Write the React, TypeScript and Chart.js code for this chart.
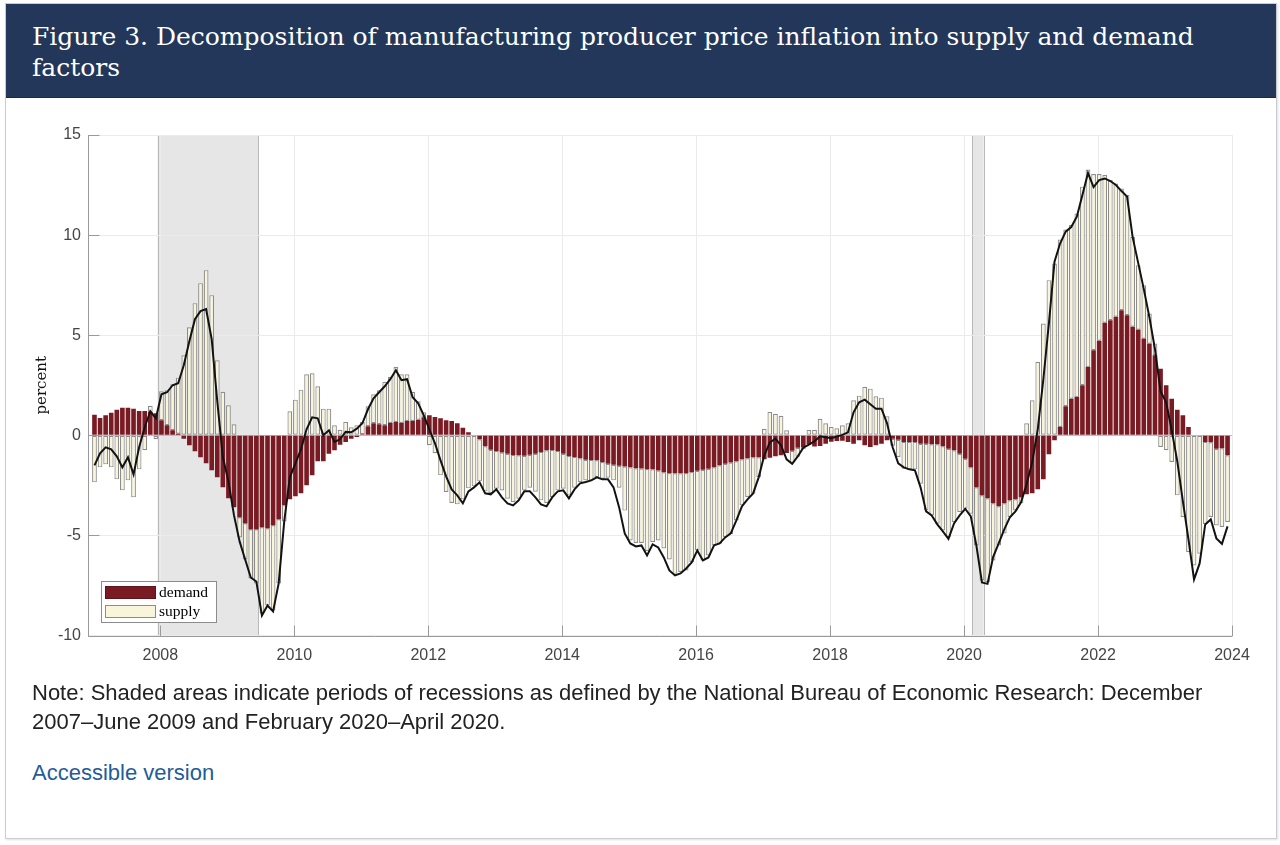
import React, { useEffect, useRef } from "react";
import { Chart, registerables } from "chart.js";

Chart.register(...registerables);

// ---------- data (monthly, Jan 2007 – Dec 2023), percent ----------
const START_YEAR = 2007;

// demand contribution
const demand: number[] = [
  1.03, 0.87, 1.0, 1.13, 1.28, 1.38, 1.38, 1.33, 1.22, 1.22, 1.17, 1.1, // 2007
  0.75, 0.5, 0.25, 0.08, -0.17, -0.5, -0.8, -1.1, -1.4, -1.75, -2.1, -2.6, // 2008
  -3.15, -3.6, -4.1, -4.4, -4.7, -4.7, -4.6, -4.65, -4.5, -4.2, -3.5, -3.2, // 2009
  -3.05, -2.9, -2.5, -2.0, -1.3, -1.3, -0.92, -0.75, -0.47, -0.33, -0.17, -0.08, // 2010
  0.05, 0.45, 0.6, 0.55, 0.5, 0.62, 0.67, 0.62, 0.72, 0.72, 0.78, 0.9, // 2011
  1.0, 0.92, 0.85, 0.75, 0.72, 0.6, 0.38, 0.15, 0.03, -0.2, -0.55, -0.72, // 2012
  -0.78, -0.86, -0.92, -0.98, -1.0, -1.02, -0.97, -0.92, -0.83, -0.75, -0.73, -0.78, // 2013
  -0.92, -1.03, -1.08, -1.15, -1.22, -1.23, -1.25, -1.33, -1.42, -1.47, -1.52, -1.56, // 2014
  -1.6, -1.65, -1.66, -1.68, -1.7, -1.76, -1.85, -1.88, -1.9, -1.9, -1.88, -1.84, // 2015
  -1.77, -1.72, -1.67, -1.6, -1.5, -1.42, -1.36, -1.3, -1.2, -1.15, -1.1, -1.1, // 2016
  -1.2, -1.12, -1.05, -1.0, -0.88, -0.77, -0.62, -0.59, -0.46, -0.56, -0.54, -0.42, // 2017
  -0.32, -0.28, -0.27, -0.33, -0.42, -0.25, -0.5, -0.58, -0.5, -0.42, -0.25, -0.17, // 2018
  -0.22, -0.33, -0.33, -0.33, -0.42, -0.42, -0.45, -0.45, -0.55, -0.67, -0.75, -0.92, // 2019
  -1.17, -1.6, -2.6, -3.0, -3.15, -3.4, -3.55, -3.4, -3.25, -3.2, -3.1, -2.95, // 2020
  -2.9, -2.7, -2.2, -0.95, -0.25, 0.42, 1.45, 1.83, 1.92, 2.5, 3.42, 4.25, // 2021
  4.72, 5.62, 5.75, 5.92, 6.25, 6.0, 5.42, 5.28, 4.83, 4.58, 4.0, 3.33, // 2022
  2.5, 1.83, 1.28, 1.0, 0.42, 0.0, 0.0, -0.33, -0.35, -0.67, -0.65, -1.0, // 2023
];

// supply contribution
const supply: number[] = [
  -2.35, -1.6, -1.45, -1.6, -2.2, -2.75, -2.25, -3.1, -1.7, -0.75, 0.3, -0.2, // 2007
  1.45, 1.75, 2.3, 2.8, 4.0, 5.4, 6.6, 7.6, 8.25, 7.0, 3.75, 2.17, // 2008
  1.5, 0.55, -1.0, -1.8, -2.45, -2.7, -4.3, -3.85, -4.25, -3.2, -0.8, 1.2, // 2009
  1.78, 2.28, 3.05, 3.1, 2.45, 1.33, 1.33, 0.5, 0.28, 0.67, 0.4, 0.5, // 2010
  0.62, 1.0, 1.45, 1.7, 2.17, 2.3, 2.75, 2.43, 2.33, 1.45, 0.92, 0.25, // 2011
  -0.5, -0.9, -2.0, -2.83, -3.38, -3.45, -3.2, -2.65, -2.55, -2.1, -2.25, -2.16, // 2012
  -1.89, -1.9, -2.25, -2.35, -2.17, -1.73, -1.65, -1.9, -2.42, -2.63, -2.35, -1.97, // 2013
  -1.75, -1.97, -1.54, -1.18, -1.03, -1.02, -0.83, -0.84, -0.7, -0.78, -1.1, -2.2, // 2014
  -3.65, -3.73, -3.72, -4.1, -3.63, -3.49, -3.8, -4.32, -5.02, -4.93, -4.87, -4.49, // 2015
  -3.98, -4.53, -4.33, -3.9, -3.92, -3.66, -3.57, -2.95, -2.3, -1.93, -1.82, -0.98, // 2016
  0.33, 1.17, 1.08, 0.98, 0.25, -0.6, -0.45, -0.1, 0.27, 0.28, 0.83, 0.6, // 2017
  0.42, 0.35, 0.5, 0.6, 1.75, 1.98, 2.42, 2.33, 1.95, 1.88, 0.95, -0.35, // 2018
  -0.86, -1.34, -1.39, -1.37, -2.0, -3.33, -3.55, -3.97, -4.2, -4.41, -3.58, -2.91, // 2019
  -2.5, -2.32, -2.9, -4.25, -4.18, -2.85, -1.95, -1.5, -0.83, -0.55, -0.3, 0.6, // 2020
  1.75, 3.67, 5.58, 7.75, 8.58, 9.36, 8.83, 8.67, 9.16, 9.92, 9.86, 8.8, // 2021
  8.33, 7.38, 7.0, 6.66, 6.08, 6.0, 4.5, 3.22, 2.67, 1.5, 0.58, -0.58, // 2022
  -0.75, -1.33, -3.0, -4.08, -5.83, -6.5, -5.92, -4.1, -3.73, -3.83, -3.93, -3.33, // 2023
];

// manufacturing producer price inflation (black line)
const ppiInflation: number[] = [
  -1.5, -0.9, -0.6, -0.7, -1.05, -1.6, -1.1, -1.95, -0.6, 0.4, 1.2, 0.85, // 2007
  2.05, 2.15, 2.5, 2.6, 3.5, 4.7, 5.8, 6.2, 6.3, 4.8, 1.7, -1.1, // 2008
  -2.3, -4.0, -5.3, -6.2, -7.1, -7.3, -9.0, -8.5, -8.8, -7.4, -4.3, -2.1, // 2009
  -1.4, -0.7, 0.3, 0.9, 0.85, 0.0, 0.25, -0.33, -0.2, 0.17, 0.15, 0.33, // 2010
  0.6, 1.3, 1.85, 2.15, 2.45, 2.8, 3.25, 2.75, 2.8, 1.9, 1.6, 1.0, // 2011
  0.3, -0.4, -1.25, -2.05, -2.7, -3.0, -3.4, -2.8, -2.6, -2.35, -2.9, -2.95, // 2012
  -2.7, -3.1, -3.4, -3.5, -3.25, -2.8, -2.8, -3.1, -3.45, -3.55, -3.1, -2.8, // 2013
  -2.75, -3.15, -2.7, -2.4, -2.33, -2.25, -2.1, -2.2, -2.2, -2.6, -3.6, -4.9, // 2014
  -5.4, -5.55, -5.5, -6.0, -5.45, -5.6, -6.1, -6.75, -7.0, -6.9, -6.65, -6.35, // 2015
  -5.75, -6.25, -6.1, -5.5, -5.4, -5.1, -4.9, -4.25, -3.55, -3.2, -2.9, -2.1, // 2016
  -1.0, -0.35, -0.17, -0.5, -1.2, -1.42, -1.05, -0.62, -0.47, -0.3, -0.05, -0.1, // 2017
  -0.15, -0.06, 0.02, 0.15, 1.15, 1.65, 1.78, 1.55, 1.33, 1.33, 0.6, -0.6, // 2018
  -1.4, -1.6, -1.7, -1.75, -2.6, -3.8, -4.0, -4.45, -4.8, -5.17, -4.4, -4.0, // 2019
  -3.67, -4.05, -5.5, -7.35, -7.42, -6.08, -5.4, -4.7, -4.1, -3.8, -3.35, -2.45, // 2020
  -1.35, 0.3, 2.8, 5.6, 8.67, 9.58, 10.17, 10.4, 10.92, 12.0, 13.1, 12.4, // 2021
  12.75, 12.83, 12.7, 12.5, 12.2, 11.92, 9.9, 8.6, 7.3, 5.9, 4.3, 2.2, // 2022
  1.65, 0.25, -1.3, -3.3, -5.2, -7.2, -6.4, -4.45, -4.2, -5.15, -5.42, -4.55, // 2023
];

// NBER recessions: [startYear, startMonth, endYear, endMonth]
const recessions: [number, number, number, number][] = [
  [2007, 12, 2009, 6],
  [2020, 2, 2020, 4],
];

const xTickYears = [2008, 2010, 2012, 2014, 2016, 2018, 2020, 2022, 2024];
const yTickValues = [-10, -5, 0, 5, 10, 15];

const seriesLabels = { demand: "demand", supply: "supply" };

// ---------- styling ----------
const DEMAND_COLOR = "#7a1b24";
const SUPPLY_COLOR = "#f9f5da";
const SUPPLY_EDGE = "#8c8c8c";
const AXIS_COLOR = "#9a9a9a";
const GRID_COLOR = "#ebebeb";
const SANS = '"Liberation Sans", Arial, sans-serif';

const monthPos = (i: number) => START_YEAR + (i + 0.2) / 12;
const monthMid = (y: number, m: number) => y + (m - 0.5) / 12;

const decorPlugin = {
  id: "decor",
  beforeDraw(chart: any) {
    const { ctx, chartArea: a, scales } = chart;
    const x = scales.x;
    ctx.save();
    for (const r of recessions) {
      const x0 = x.getPixelForValue(monthMid(r[0], r[1]));
      const x1 = x.getPixelForValue(monthMid(r[2], r[3]));
      ctx.fillStyle = "#e6e6e6";
      ctx.fillRect(x0, a.top, x1 - x0, a.bottom - a.top);
      ctx.strokeStyle = "#b9b9b9";
      ctx.lineWidth = 1;
      ctx.beginPath();
      ctx.moveTo(Math.round(x0) + 0.5, a.top);
      ctx.lineTo(Math.round(x0) + 0.5, a.bottom);
      ctx.moveTo(Math.round(x1) + 0.5, a.top);
      ctx.lineTo(Math.round(x1) + 0.5, a.bottom);
      ctx.stroke();
    }
    ctx.restore();
  },
  beforeDatasetsDraw(chart: any) {
    const { ctx, chartArea: a, scales } = chart;
    const y0 = Math.round(scales.y.getPixelForValue(0)) + 0.5;
    ctx.save();
    ctx.strokeStyle = "#bdbdbd";
    ctx.lineWidth = 1;
    ctx.beginPath();
    ctx.moveTo(a.left, y0);
    ctx.lineTo(a.right, y0);
    ctx.stroke();
    ctx.restore();
  },
  afterDraw(chart: any) {
    const { ctx, chartArea: a, scales } = chart;
    const { x, y } = scales;
    ctx.save();
    // axes (left + bottom) with inward ticks
    ctx.strokeStyle = AXIS_COLOR;
    ctx.lineWidth = 1;
    const L = Math.round(a.left) + 0.5;
    const B = Math.round(a.bottom) + 0.5;
    ctx.beginPath();
    ctx.moveTo(L, a.top);
    ctx.lineTo(L, B);
    ctx.lineTo(a.right, B);
    for (const v of yTickValues) {
      const py = Math.round(y.getPixelForValue(v)) + 0.5;
      ctx.moveTo(L, py);
      ctx.lineTo(L + 11, py);
    }
    for (const v of xTickYears) {
      const px = Math.round(x.getPixelForValue(v)) + 0.5;
      ctx.moveTo(px, B);
      ctx.lineTo(px, B - 11);
    }
    ctx.stroke();

    // y-axis title
    ctx.save();
    ctx.translate(42, (a.top + a.bottom) / 2);
    ctx.rotate(-Math.PI / 2);
    ctx.fillStyle = "#111";
    ctx.font = '15px "DejaVu Serif", serif';
    ctx.textAlign = "center";
    ctx.textBaseline = "middle";
    ctx.fillText("percent", 0, 0);
    ctx.restore();

    // legend box (lower left, inside axes)
    const lw = 115;
    const lh = 41;
    const lx = Math.round(a.left) + 13;
    const ly = Math.round(a.bottom) - 14 - lh;
    ctx.fillStyle = "#ffffff";
    ctx.fillRect(lx, ly, lw, lh);
    ctx.strokeStyle = "#8c8c8c";
    ctx.strokeRect(lx + 0.5, ly + 0.5, lw, lh);
    const ds = chart.data.datasets;
    const entries = [ds[1], ds[2]];
    entries.forEach((d: any, k: number) => {
      const py = ly + 5 + k * 19;
      ctx.fillStyle = d.backgroundColor;
      ctx.fillRect(lx + 4, py, 51, 13);
      ctx.strokeStyle = k === 0 ? "#5e141b" : "#8c8c8c";
      ctx.strokeRect(lx + 4.5, py + 0.5, 50, 12);
      ctx.fillStyle = "#000";
      ctx.font = '15.5px "Liberation Serif", serif';
      ctx.textAlign = "left";
      ctx.textBaseline = "middle";
      ctx.fillText(d.label, lx + 58, py + 6.5);
    });
    ctx.restore();
  },
};

export default function App() {
  const canvasRef = useRef<HTMLCanvasElement | null>(null);

  useEffect(() => {
    if (!canvasRef.current) return;
    const demandPts = demand.map((v, i) => ({ x: monthPos(i), y: v }));
    const supplyPts = supply.map((v, i) => ({ x: monthPos(i), y: v }));
    const linePts = ppiInflation.map((v, i) => ({ x: monthPos(i), y: v }));

    const chart = new Chart(canvasRef.current, {
      type: "bar",
      data: {
        datasets: [
          {
            type: "line",
            label: "inflation",
            data: linePts,
            borderColor: "#121212",
            borderWidth: 2,
            pointRadius: 0,
            tension: 0,
            fill: false,
            order: 0,
            stack: "line",
          } as any,
          {
            type: "bar",
            label: seriesLabels.demand,
            data: demandPts,
            backgroundColor: DEMAND_COLOR,
            borderWidth: 0,
            stack: "decomp",
            order: 1,
            barPercentage: 0.83,
            categoryPercentage: 1,
          } as any,
          {
            type: "bar",
            label: seriesLabels.supply,
            data: supplyPts,
            backgroundColor: SUPPLY_COLOR,
            borderColor: SUPPLY_EDGE,
            borderWidth: 1.2,
            borderSkipped: false,
            stack: "decomp",
            order: 2,
            barPercentage: 0.85,
            categoryPercentage: 1,
          } as any,
        ],
      },
      options: {
        responsive: false,
        animation: false,
        events: [],
        layout: { padding: { left: 0, top: 35, right: 48, bottom: 0 } },
        plugins: {
          legend: { display: false },
          tooltip: { enabled: false },
          title: { display: false },
        },
        scales: {
          x: {
            type: "linear",
            min: 2006.92,
            max: 2024,
            stacked: true,
            offset: false,
            grid: {
              offset: false,
              color: GRID_COLOR,
              drawTicks: false,
            },
            border: { display: false },
            afterBuildTicks: (scale: any) => {
              scale.ticks = xTickYears.map((v) => ({ value: v }));
            },
            afterFit: (scale: any) => {
              scale.height = 44.5;
            },
            ticks: {
              padding: 10,
              color: "#454545",
              font: { family: SANS, size: 16 },
              maxRotation: 0,
              autoSkip: false,
              callback: (v: any) => String(v),
            },
          } as any,
          y: {
            type: "linear",
            min: -10,
            max: 15,
            stacked: true,
            grid: { color: GRID_COLOR, drawTicks: false },
            border: { display: false },
            afterFit: (scale: any) => {
              scale.width = 88;
            },
            afterBuildTicks: (scale: any) => {
              scale.ticks = yTickValues.map((v) => ({ value: v }));
            },
            ticks: {
              padding: 7,
              color: "#454545",
              font: { family: SANS, size: 16 },
              callback: (v: any) => String(v),
            },
          } as any,
        },
      },
      plugins: [decorPlugin],
    } as any);

    return () => chart.destroy();
  }, []);

  return (
    <div style={{ position: "absolute", left: 0, top: 0, width: 1280, height: 845, overflow: "hidden" }}>
      <div
        style={{
          position: "absolute",
          left: 5,
          top: 3,
          width: 1272,
          height: 836,
          boxSizing: "border-box",
          border: "1px solid #c9cdd2",
          background: "#ffffff",
          boxShadow: "1px 1px 2px rgba(0,0,0,0.12)",
        }}
      />
      <div
        style={{
          position: "absolute",
          left: 6,
          top: 4,
          width: 1270,
          height: 93,
          background: "#22375a",
          borderBottom: "1px solid #1a2b47",
        }}
      />
      <div
        style={{
          position: "absolute",
          left: 32,
          top: 21,
          color: "#ffffff",
          fontFamily: '"DejaVu Serif", "Liberation Serif", serif',
          fontSize: 25,
          lineHeight: "31px",
          whiteSpace: "nowrap",
        }}
      >
        Figure 3. Decomposition of manufacturing producer price inflation into supply and demand
        <br />
        factors
      </div>
      <canvas
        ref={canvasRef}
        width={1280}
        height={580}
        style={{ position: "absolute", left: 0, top: 100, width: 1280, height: 580 }}
      />
      <div
        style={{
          position: "absolute",
          left: 32,
          top: 678,
          width: 1240,
          color: "#222222",
          fontFamily: SANS,
          fontSize: 22,
          lineHeight: "29px",
          whiteSpace: "nowrap",
        }}
      >
        Note: Shaded areas indicate periods of recessions as defined by the National Bureau of Economic Research: December
        <br />
        2007–June 2009 and February 2020–April 2020.
      </div>
      <a
        href="#"
        style={{
          position: "absolute",
          left: 32,
          top: 758,
          color: "#1f5c99",
          fontFamily: SANS,
          fontSize: 22,
          lineHeight: "29px",
          textDecoration: "none",
        }}
      >
        Accessible version
      </a>
    </div>
  );
}
